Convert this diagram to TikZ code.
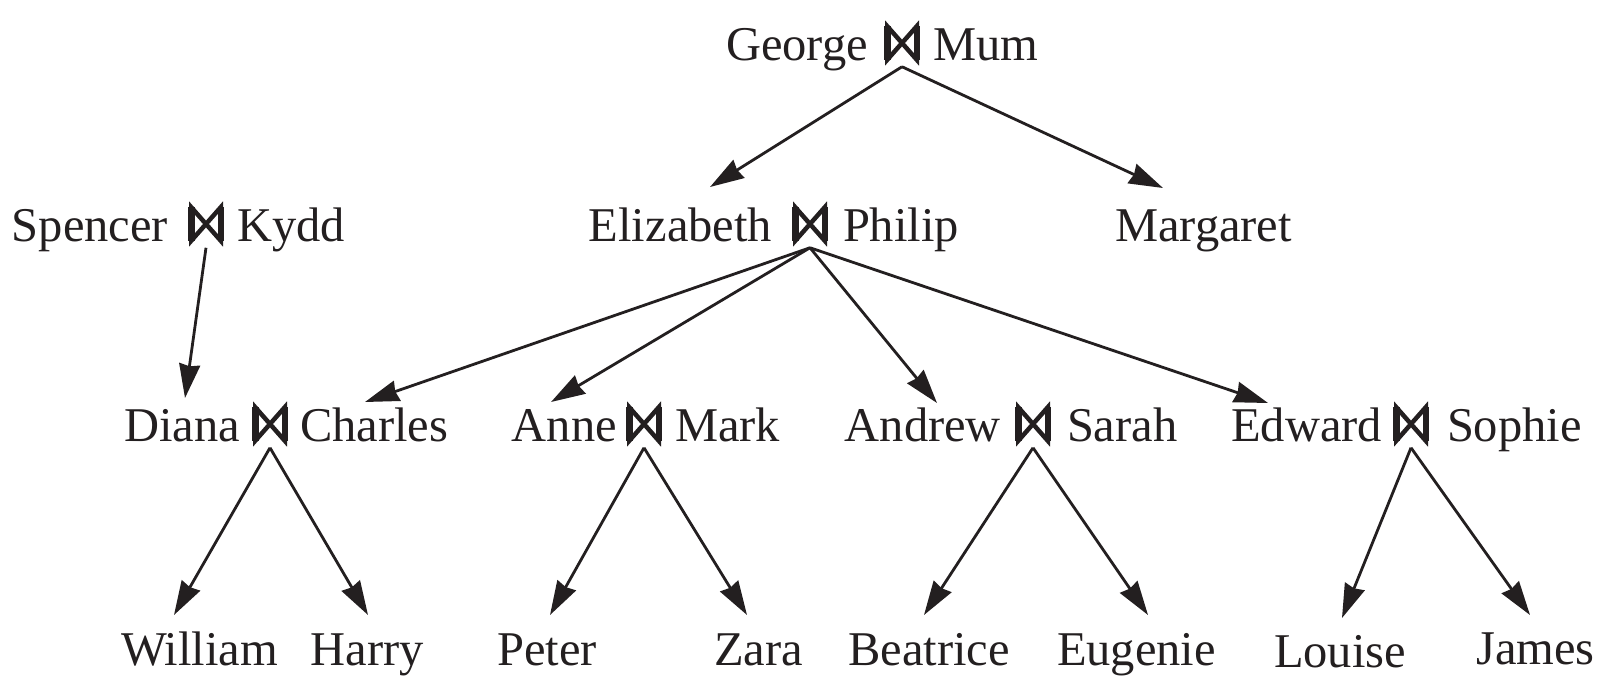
\documentclass[tikz,border=0pt]{standalone}
\usepackage{fontspec}
\setmainfont{Liberation Serif}
\usetikzlibrary{arrows.meta}
\definecolor{ink}{HTML}{231F20}
\tikzset{
  lbl/.style={inner sep=0pt, outer sep=0pt, font=\fontsize{48.5}{58}\selectfont, text=ink},
  bowbox/.style={minimum width=29.5pt, minimum height=33.5pt, inner sep=0pt, outer sep=0pt},
  bowline/.style={line width=4.5pt, line join=miter, draw=ink},
  bowbar/.style={line width=6.5pt, draw=ink},
  arr/.style={line width=2.8pt, draw=ink, -{Stealth[length=34pt,width=21pt,inset=2pt]}},
}
\newcommand\Bow[3]{%
  \node[bowbox] (#1) at (#2,#3-17) {};
  \draw[bowline] (#1.south west) -- (#1.north west) -- (#1.south east) -- (#1.north east) -- cycle;
  \draw[bowbar] (#1.south west) -- (#1.north west) (#1.south east) -- (#1.north east);
  \coordinate (#1-o) at ([yshift=-7pt]#1.south);
}
\begin{document}
\begin{tikzpicture}[x=1pt,y=-1pt]
\useasboundingbox (0,0) rectangle (1605,675);
% row 1
\Bow{gm}{902}{60}
\node[lbl, anchor=base east] (george) at (868,60) {George};
\node[lbl, anchor=base west] (mum) at (933,60) {Mum};
% row 2
\Bow{sk}{206}{241}
\node[lbl, anchor=base east] (spencer) at (168,241) {Spencer};
\node[lbl, anchor=base west] (kydd) at (237,241) {Kydd};
\Bow{ep}{810}{241}
\node[lbl, anchor=base east] (elizabeth) at (772,241) {Elizabeth};
\node[lbl, anchor=base west] (philip) at (843,241) {Philip};
\node[lbl, anchor=base] (margaret) at (1203.5,241) {Margaret};
% row 3
\Bow{dc}{270}{441}
\node[lbl, anchor=base east] (diana) at (240,441) {Diana};
\node[lbl, anchor=base west] (charles) at (300,441) {Charles};
\Bow{am}{644}{441}
\node[lbl, anchor=base east] (anne) at (617,441) {Anne};
\node[lbl, anchor=base west] (mark) at (675,441) {Mark};
\Bow{as}{1033}{441}
\node[lbl, anchor=base east] (andrew) at (1001,441) {Andrew};
\node[lbl, anchor=base west] (sarah) at (1067,441) {Sarah};
\Bow{es}{1411}{441}
\node[lbl, anchor=base east] (edward) at (1382,441) {Edward};
\node[lbl, anchor=base west] (sophie) at (1447,441) {Sophie};
% row 4
\node[lbl, anchor=base] (william) at (199.5,665) {William};
\node[lbl, anchor=base] (harry) at (367.5,665) {Harry};
\node[lbl, anchor=base] (peter) at (547,665) {Peter};
\node[lbl, anchor=base] (zara) at (758.5,665) {Zara};
\node[lbl, anchor=base] (beatrice) at (929,665) {Beatrice};
\node[lbl, anchor=base] (eugenie) at (1136.5,665) {Eugenie};
\node[lbl, anchor=base] (louise) at (1340,667) {Louise};
\node[lbl, anchor=base] (james) at (1535.5,664) {James};
% arrow tips
\coordinate (t-ep) at (710,187);
\coordinate (t-mar) at (1163,188);
\coordinate (t-dc) at (185,398);
\coordinate (t-cha) at (365,402);
\coordinate (t-ann) at (551,402);
\coordinate (t-and) at (937,403);
\coordinate (t-edw) at (1268,403);
\coordinate (t-wil) at (174,615);
\coordinate (t-har) at (368,615);
\coordinate (t-pet) at (550,615);
\coordinate (t-zar) at (747,615);
\coordinate (t-bea) at (924,615);
\coordinate (t-eug) at (1148,615);
\coordinate (t-lou) at (1342,618);
\coordinate (t-jam) at (1530,615);
% connectors
\draw[arr] (gm-o) -- (t-ep);
\draw[arr] (gm-o) -- (t-mar);
\draw[arr] (sk-o) -- (t-dc);
\draw[arr] (ep-o) -- (t-cha);
\draw[arr] (ep-o) -- (t-ann);
\draw[arr] (ep-o) -- (t-and);
\draw[arr] (ep-o) -- (t-edw);
\draw[arr] (dc-o) -- (t-wil);
\draw[arr] (dc-o) -- (t-har);
\draw[arr] (am-o) -- (t-pet);
\draw[arr] (am-o) -- (t-zar);
\draw[arr] (as-o) -- (t-bea);
\draw[arr] (as-o) -- (t-eug);
\draw[arr] (es-o) -- (t-lou);
\draw[arr] (es-o) -- (t-jam);
\end{tikzpicture}
\end{document}
